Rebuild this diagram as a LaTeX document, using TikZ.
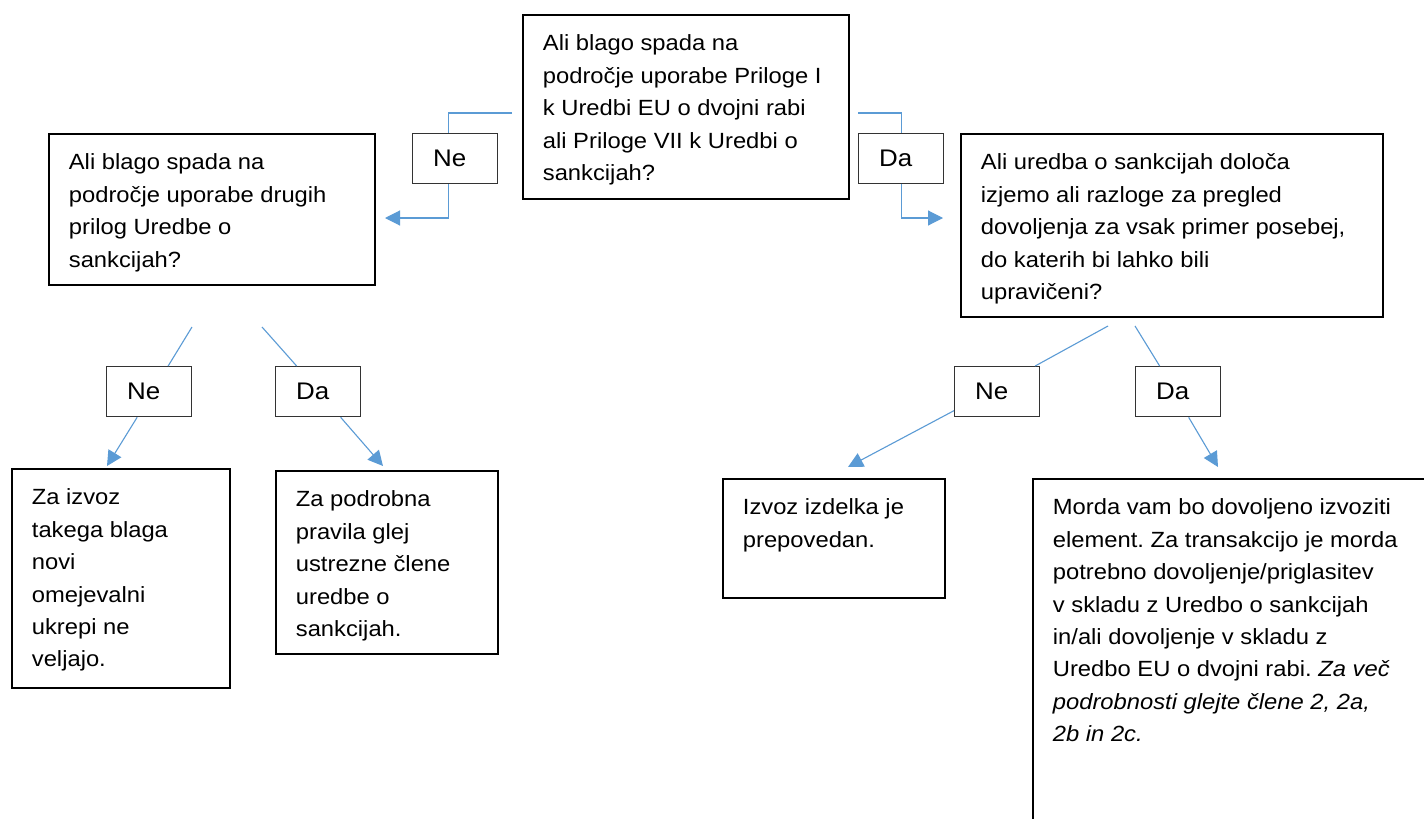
\documentclass[tikz,border=0pt]{standalone}
\usepackage{fontspec}
\setmainfont{Liberation Sans}[FakeStretch=1.08]
\usetikzlibrary{positioning,arrows.meta}
\definecolor{linkblue}{RGB}{91,155,213}
\newcommand{\boxfont}{\fontsize{22}{32.4}\selectfont}
\newcommand{\lblfont}{\fontsize{24}{28}\selectfont}
\newcommand{\boxtxt}[3]{\parbox[t][#2pt][t]{#1pt}{\raggedright\frenchspacing\strut #3}}

\begin{document}
\begin{tikzpicture}[x=1pt, y=-1pt,
	qbox/.style={rectangle,draw=black,line width=1.8pt,anchor=north west,
		inner xsep=20pt,inner ysep=13.3pt,font=\boxfont},
	answer/.style={rectangle,draw=black!80,line width=1.3pt,anchor=north west,
		text width=44pt,inner xsep=20.5pt,minimum height=50pt,align=left,font=\lblfont},
	link/.style={draw=linkblue,line width=1.1pt},
	arrowed/.style={-{Triangle[length=15pt,width=15pt,fill=linkblue]}}]
	\path[use as bounding box,fill=white] (0,0) rectangle (1424,819);
	% questions
	\node[qbox] (AnxQ) at (522,14) {\boxtxt{286}{157.4}{Ali blago spada na\\področje uporabe Priloge I\\k Uredbi EU o dvojni rabi\\ali Priloge VII k Uredbi o\\sankcijah?}};
	\node[qbox] (OthQ) at (48,133) {\boxtxt{286}{124.4}{Ali blago spada na\\področje uporabe drugih\\prilog Uredbe o\\sankcijah?}};
	\node[qbox] (ExcQ) at (960,133) {\boxtxt{382}{156.4}{Ali uredba o sankcijah določa\\izjemo ali razloge za pregled\\dovoljenja za vsak primer posebej,\\do katerih bi lahko bili\\upravičeni?}};
	% results
	\node[qbox] (NoMeasR) at (11,468) {\boxtxt{178}{192.4}{Za izvoz\\takega blaga\\novi\\omejevalni\\ukrepi ne\\veljajo.}};
	\node[qbox] (SeeArtR) at (275,470) {\boxtxt{182}{156.4}{Za podrobna\\pravila glej\\ustrezne člene\\uredbe o\\sankcijah.}};
	\node[qbox] (BanR) at (722,478) {\boxtxt{182}{92.4}{Izvoz izdelka je\\prepovedan.}};
	\node[qbox] (MayR) at (1032,478) {\boxtxt{400}{400}{Morda vam bo dovoljeno izvoziti\\element. Za transakcijo je morda\\potrebno dovoljenje/priglasitev\\v skladu z Uredbo o sankcijah\\in/ali dovoljenje v skladu z\\Uredbo EU o dvojni rabi. \textit{Za več\\podrobnosti glejte člene 2, 2a,\\2b in 2c.}}};
	% answers
	\node[answer] (NeTop) at (412,133) {Ne};
	\node[answer] (DaTop) at (858,133) {Da};
	\node[answer] (NeLeft) at (106,366) {Ne};
	\node[answer] (DaLeft) at (275,366) {Da};
	\node[answer] (NeRight) at (954,366) {Ne};
	\node[answer] (DaRight) at (1135,366) {Da};
	% free ends
	\coordinate (AnxW) at (512,113);
	\coordinate (AnxE) at (858,113);
	\coordinate (OthTip) at (385,218);
	\coordinate (ExcTip) at (943,218);
	\coordinate (OthNe) at (192,327);
	\coordinate (OthDa) at (262,327);
	\coordinate (ExcNe) at (1108,326);
	\coordinate (ExcDa) at (1135,326);
	\coordinate (NoMeasTip) at (107,466);
	\coordinate (SeeArtTip) at (383,466);
	\coordinate (BanTip) at (848,467);
	\coordinate (MayTip) at (1218,467);
	% connectors
	\draw[link] (AnxW) -| ([xshift=-6.5pt]NeTop.north);
	\draw[link,arrowed] ([xshift=-6.5pt]NeTop.south) |- (OthTip);
	\draw[link] (AnxE) -| (DaTop);
	\draw[link,arrowed] (DaTop) |- (ExcTip);
	\draw[link] (OthNe) -- ([xshift=19pt]NeLeft.north);
	\draw[link] (OthDa) -- ([xshift=-21.5pt]DaLeft.north);
	\draw[link,arrowed] ([xshift=-12pt]NeLeft.south) -- (NoMeasTip);
	\draw[link,arrowed] ([xshift=22.5pt]DaLeft.south) -- (SeeArtTip);
	\draw[link] (ExcNe) -- ([xshift=38pt]NeRight.north);
	\draw[link] (ExcDa) -- ([xshift=-18.5pt]DaRight.north);
	\draw[link,arrowed] ([yshift=-19pt]NeRight.west) -- (BanTip);
	\draw[link,arrowed] ([xshift=10.5pt]DaRight.south) -- (MayTip);
\end{tikzpicture}
\end{document}
